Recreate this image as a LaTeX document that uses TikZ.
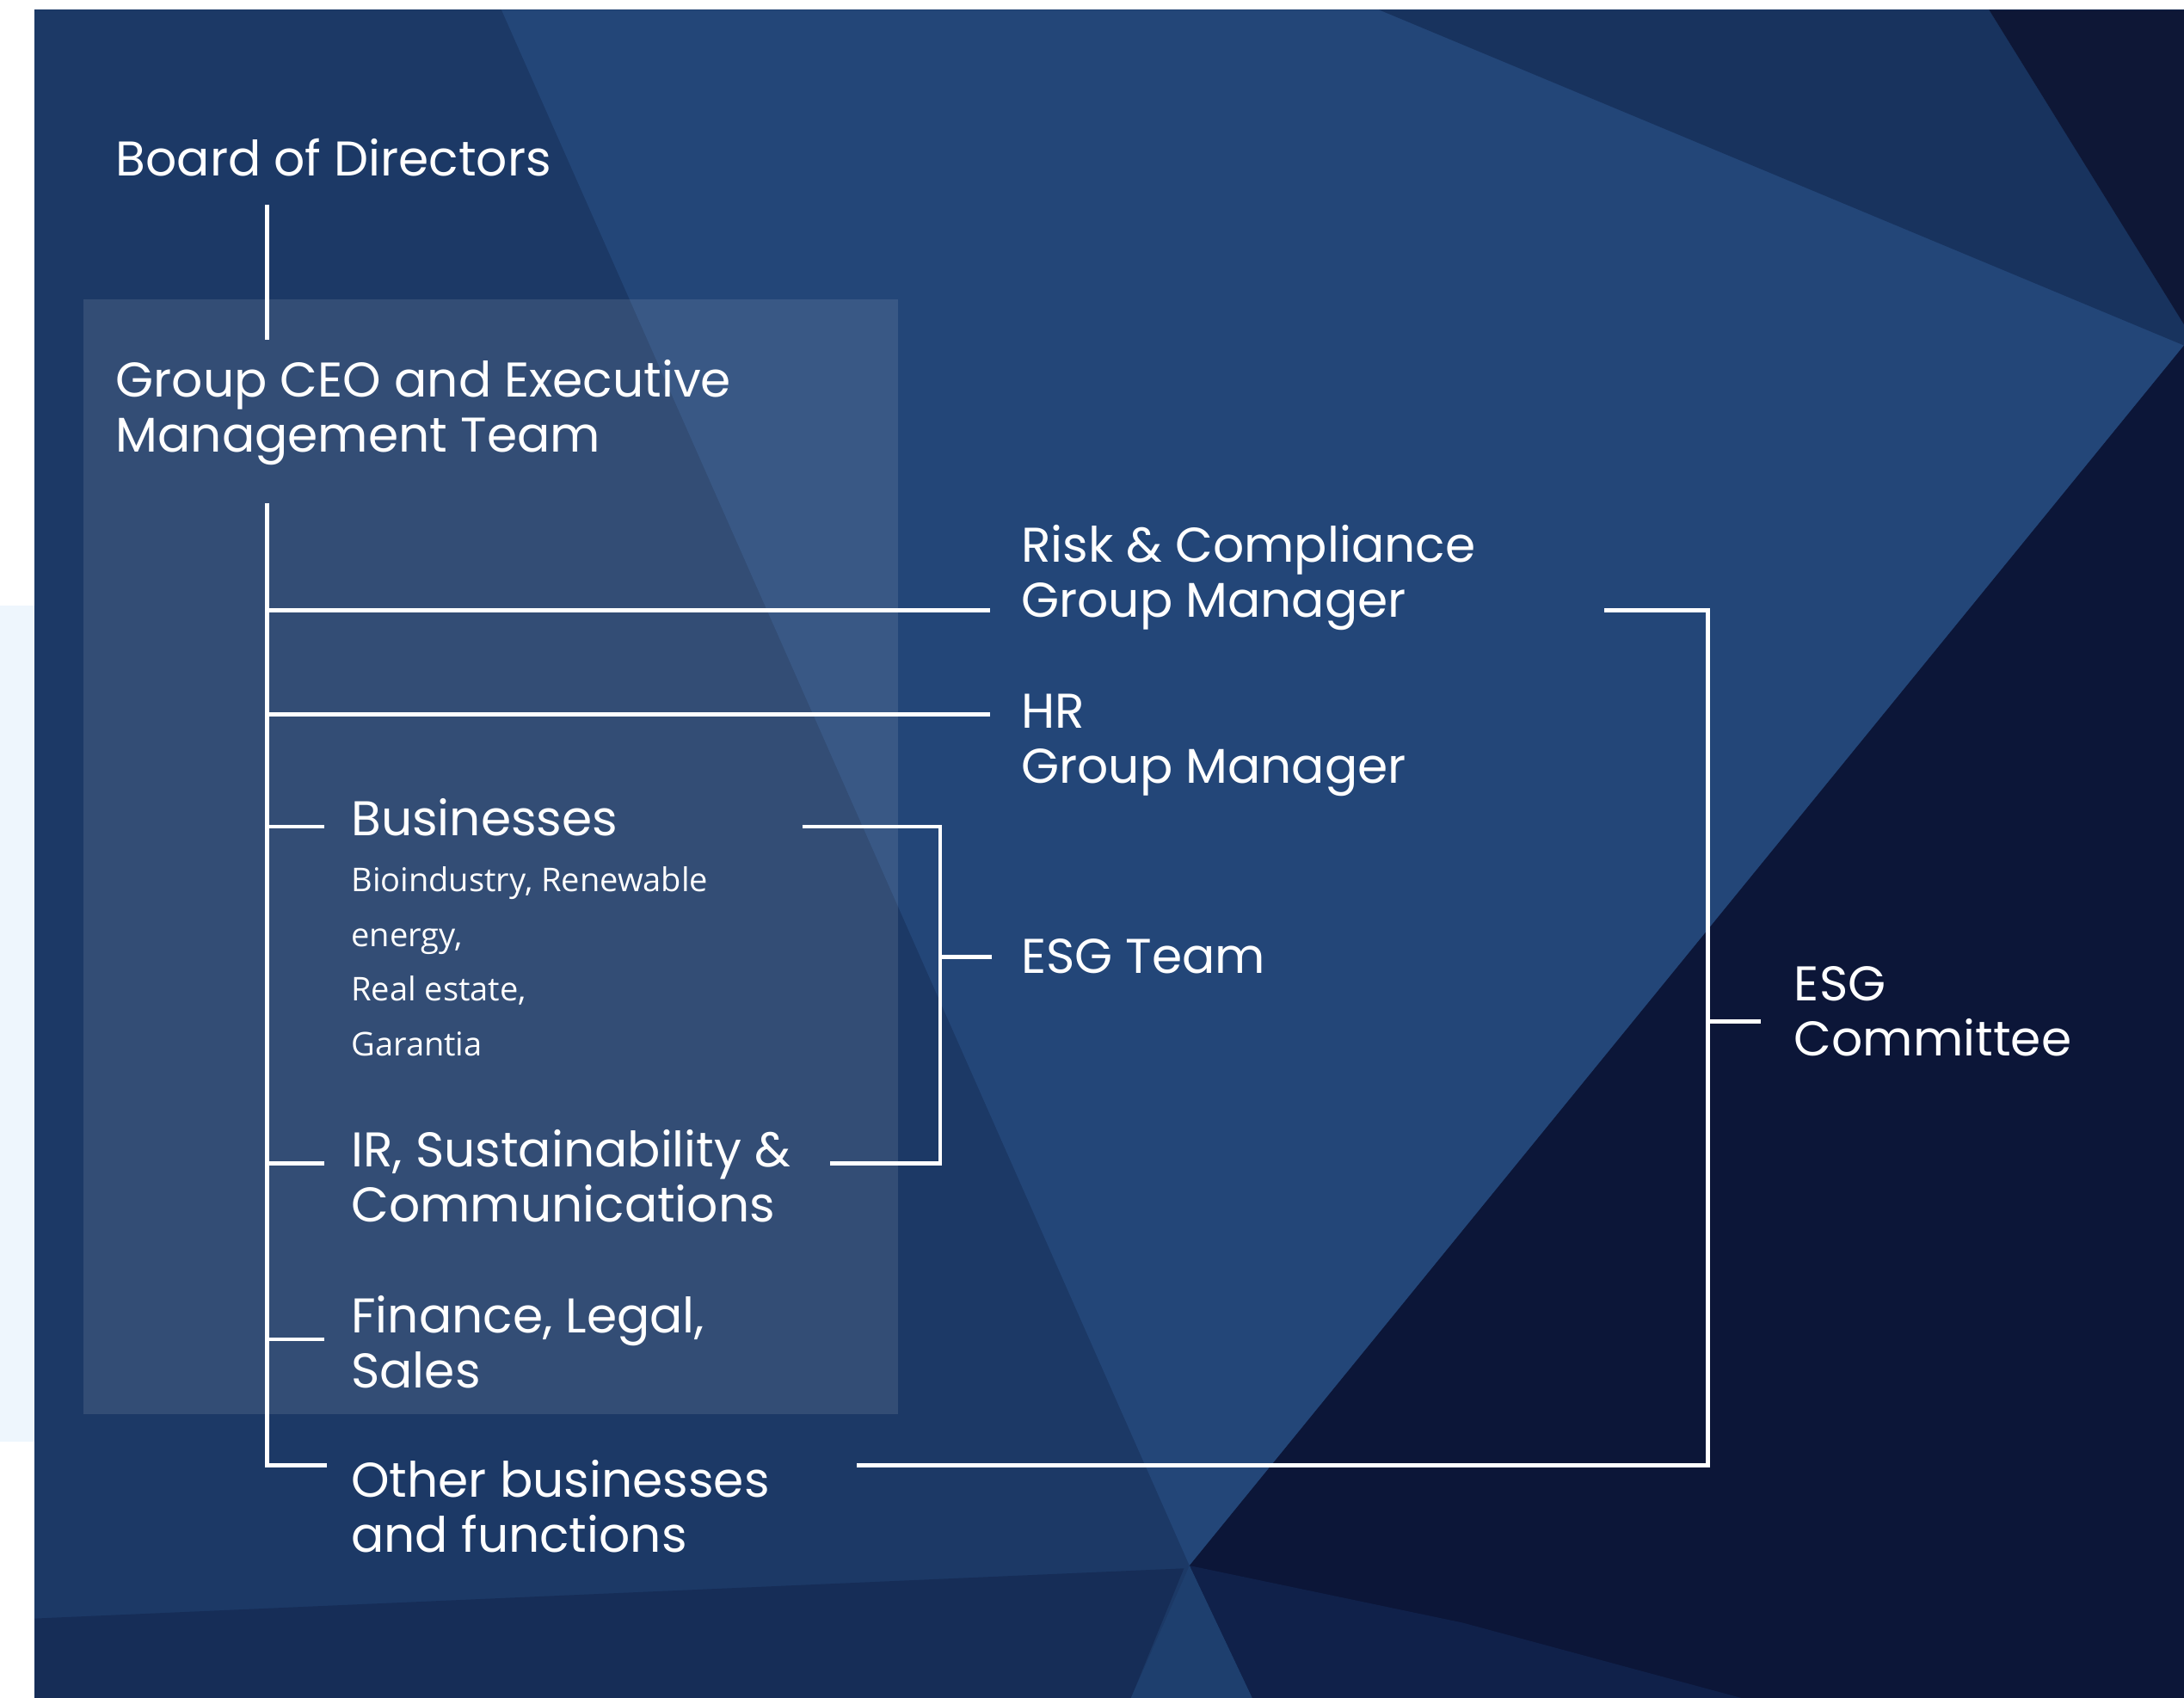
\documentclass[tikz,border=0pt]{standalone}
\usepackage{fontspec}
\newfontfamily\mainf{Poppins}
\newfontfamily\subf{Open Sans}
\definecolor{pale}{RGB}{238,246,253}
\definecolor{leftblue}{RGB}{28,57,102}
\definecolor{midblue}{RGB}{35,70,120}
\definecolor{bandblue}{RGB}{24,51,94}
\definecolor{darktri}{RGB}{14,23,54}
\definecolor{navy}{RGB}{12,22,56}
\definecolor{fanblue}{RGB}{30,63,110}
\definecolor{botblue}{RGB}{22,45,87}
\definecolor{botnavy}{RGB}{16,33,74}
\begin{document}
\begin{tikzpicture}[x=1pt,y=-1pt,
  lab/.style={anchor=base west,inner sep=0pt,text=white,align=left,font=\mainf\fontsize{35}{39.5}\selectfont},
  sublab/.style={anchor=base west,inner sep=0pt,text=white,align=left,font=\subf\fontsize{23.5}{39.3}\selectfont},
  conn/.style={draw=white,line width=3pt}]
% background
\useasboundingbox (0,0) rectangle (1568,1219);
\fill[white] (0,0) rectangle (1568,1219);
\fill[pale] (0,435) rectangle (25,1035);
\fill[leftblue] (25,7) rectangle (1568,1219);
\fill[midblue] (360,7) -- (1568,7) -- (1568,248) -- (854,1124) -- cycle;
\fill[bandblue] (990,7) -- (1428,7) -- (1568,233) -- (1568,248) -- cycle;
\fill[darktri] (1428,7) -- (1568,7) -- (1568,233) -- cycle;
\fill[navy] (1568,248) -- (1568,1219) -- (899,1219) -- (854,1124) -- cycle;
\fill[botnavy] (854,1124) -- (899,1219) -- (1250,1219) -- (1050,1165) -- cycle;
\fill[botblue] (25,1162) -- (850,1126) -- (812,1219) -- (25,1219) -- cycle;
\fill[fanblue] (854,1124) -- (812,1219) -- (899,1219) -- cycle;
\fill[white,opacity=0.1] (60,215) rectangle (645,1015);
% labels (base = baseline of the last line)
\node[lab] (board) at (83,126) {Board of Directors};
\node[lab] (ceo) at (83,324.5) {Group CEO and Executive\\Management Team};
\node[lab] (risk) at (733,443) {Risk \& Compliance\\Group Manager};
\node[lab] (hr) at (733,562) {HR\\Group Manager};
\node[lab] (bus) at (252,600) {Businesses};
\node[sublab] (bussub) at (252,758) {Bioindustry, Renewable\\energy,\\Real estate,\\Garantia};
\node[lab] (esgt) at (733,699) {ESG Team};
\node[lab] (ir) at (252,877.5) {IR, Sustainability \&\\Communications};
\node[lab] (fin) at (252,996.5) {Finance, Legal,\\Sales};
\node[lab] (esgc) at (1288,758) {ESG\\Committee};
\node[lab] (oth) at (252,1114.5) {Other businesses\\and functions};
% connector coordinates
\coordinate (boardS) at (192,147);
\coordinate (ceoN) at (192,244);
\coordinate (trunkT) at (192,363);
\coordinate (trunkB) at (192,1052);
\coordinate (riskJ) at (192,438);
\coordinate (riskW) at (711,438);
\coordinate (hrJ) at (192,513);
\coordinate (hrW) at (711,513);
\coordinate (busJ) at (192,593.5);
\coordinate (busW) at (233,593.5);
\coordinate (irJ) at (192,835);
\coordinate (irW) at (233,835);
\coordinate (finJ) at (192,961.5);
\coordinate (finW) at (233,961.5);
\coordinate (othW) at (233,1052);
\coordinate (busE) at (576,593.5);
\coordinate (irE) at (596,835);
\coordinate (tbrT) at (675,593.5);
\coordinate (tbrB) at (675,835);
\coordinate (tbrM) at (675,687);
\coordinate (esgtW) at (712,687);
\coordinate (riskE) at (1152,438);
\coordinate (cbrT) at (1226,438);
\coordinate (cbrB) at (1226,1052);
\coordinate (cbrM) at (1226,733.5);
\coordinate (esgcW) at (1264,733.5);
\coordinate (othE) at (615,1052);
% connectors
\draw[conn] (boardS) -- (ceoN);
\draw[conn,line cap=rect] (trunkT) -- (trunkB) -- (othW);
\draw[conn] (riskJ) -- (riskW);
\draw[conn] (hrJ) -- (hrW);
\draw[conn] (busJ) -- (busW);
\draw[conn] (irJ) -- (irW);
\draw[conn] (finJ) -- (finW);
\draw[conn] (busE) -- (tbrT) -- (tbrB) -- (irE);
\draw[conn] (tbrM) -- (esgtW);
\draw[conn] (riskE) -- (cbrT) -- (cbrB) -- (othE);
\draw[conn] (cbrM) -- (esgcW);
\end{tikzpicture}
\end{document}
